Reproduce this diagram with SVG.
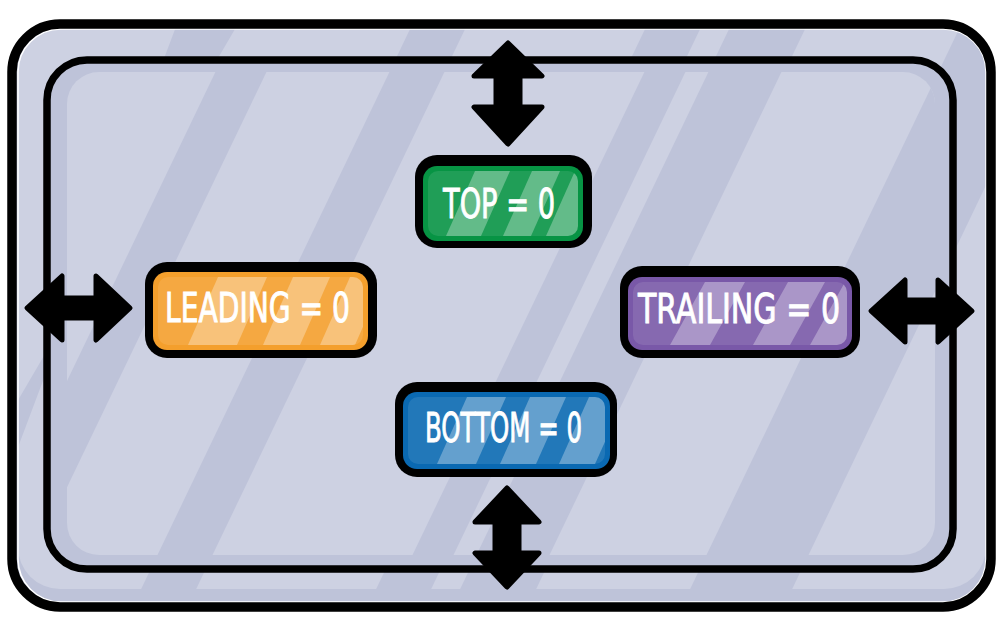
<svg xmlns="http://www.w3.org/2000/svg" width="1002" height="631" viewBox="0 0 1002 631">
<style>
.dark{fill:#bec3d9}
.lite{fill:#cdd1e2}
.band{fill:#bec3d9}
.frame{fill:none;stroke:#000;stroke-linejoin:round}
.arrow{fill:#000;stroke:#000;stroke-width:5;stroke-linejoin:round}
.edge{fill:#000}
.gloss{fill:#fff;fill-opacity:0.1}
.stripe{fill:#fff;fill-opacity:0.3}
.lbl{font-family:"DejaVu Sans Condensed","DejaVu Sans",sans-serif;font-size:41px;fill:#fff;stroke:#fff;stroke-width:0.9}
</style>
<defs>
<clipPath id="cOuter"><rect x="18" y="29" width="968" height="560" rx="42"/></clipPath>
<clipPath id="cPanel"><rect x="67" y="72" width="868" height="483" rx="32"/></clipPath>
<clipPath id="cTop"><rect x="428" y="171" width="150" height="65" rx="10"/></clipPath>
<clipPath id="cLead"><rect x="158" y="277" width="205" height="68" rx="10"/></clipPath>
<clipPath id="cTrail"><rect x="633" y="282" width="214" height="63" rx="10"/></clipPath>
<clipPath id="cBot"><rect x="408" y="397" width="197" height="67" rx="10"/></clipPath>
</defs>

<g id="background">
<rect class="dark" x="12" y="24" width="979" height="583" rx="48"/>
<rect class="lite" x="18" y="29" width="968" height="560" rx="42"/>
<g clip-path="url(#cOuter)">
<polygon class="band" points="186,0 252,0 -117,631 -51,631"/>
<polygon class="band" points="424,0 479,0 176,631 121,631"/>
<polygon class="band" points="659,0 714,0 411,631 356,631"/>
<polygon class="band" points="743,0 819,0 516,631 440,631"/>
<polygon class="band" points="973,0 1075,0 772,631 670,631"/>
</g>
<rect class="dark" x="47" y="60" width="906" height="509" rx="40"/>
<rect class="lite" x="67" y="72" width="868" height="483" rx="32"/>
<g clip-path="url(#cPanel)">
<polygon class="band" points="250,0 301,0 -2,631 -53,631"/>
<polygon class="band" points="424,0 479,0 176,631 121,631"/>
<polygon class="band" points="679,0 720,0 417,631 376,631"/>
<polygon class="band" points="743,0 816,0 513,631 440,631"/>
<polygon class="band" points="973,0 1075,0 772,631 670,631"/>
</g>
<rect class="frame" x="47" y="60" width="906" height="509" rx="40" stroke-width="7.5"/>
<rect x="18" y="29" width="968" height="573" rx="43" fill="none" stroke="#fff" stroke-width="1.5"/>
<rect class="frame" x="12" y="24" width="979" height="583" rx="48" stroke-width="9.5"/>
</g>

<g id="connectors">
<polygon class="arrow" points="508,43 542,76 520,76 520,107 542,107 508,144 474,107 496,107 496,76 474,76"/>
<polygon class="arrow" points="507,488 539,522 519,522 519,553 539,553 507,587 475,553 495,553 495,522 475,522"/>
<polygon class="arrow" points="27,308 62,276 62,298 96,298 96,276 130,308 96,340 96,318 62,318 62,340"/>
<polygon class="arrow" points="871,311 905,280 905,300 938,300 938,280 972,311 938,342 938,322 905,322 905,342"/>
</g>

<g id="node-top">
<rect class="edge" x="415" y="155" width="177" height="93" rx="22"/>
<rect x="423" y="166" width="160" height="75" rx="14" fill="#079444"/>
<rect class="gloss" x="428" y="171" width="150" height="65" rx="10"/>
<g clip-path="url(#cTop)">
<polygon class="stripe" points="475,171 510,171 481,236 446,236"/>
<polygon class="stripe" points="532,171 560,171 531,236 503,236"/>
<polygon class="stripe" points="575,171 605,171 576,236 546,236"/>
</g>
<text class="lbl" x="443" y="218" textLength="112" lengthAdjust="spacingAndGlyphs">TOP = 0</text>
</g>

<g id="node-leading">
<rect class="edge" x="145" y="262" width="232" height="96" rx="22"/>
<rect x="153" y="272" width="215" height="78" rx="14" fill="#f49f2c"/>
<rect class="gloss" x="158" y="277" width="205" height="68" rx="10"/>
<g clip-path="url(#cLead)">
<polygon class="stripe" points="218,277 267,277 237,345 188,345"/>
<polygon class="stripe" points="293,277 330,277 300,345 263,345"/>
<polygon class="stripe" points="350,277 385,277 355,345 320,345"/>
</g>
<text class="lbl" x="165" y="322" textLength="185" lengthAdjust="spacingAndGlyphs">LEADING = 0</text>
</g>

<g id="node-trailing">
<rect class="edge" x="620" y="266" width="240" height="92" rx="22"/>
<rect x="628" y="277" width="224" height="73" rx="14" fill="#7958a8"/>
<rect class="gloss" x="633" y="282" width="214" height="63" rx="10"/>
<g clip-path="url(#cTrail)">
<polygon class="stripe" points="705,282 745,282 710,345 670,345"/>
<polygon class="stripe" points="788,282 825,282 790,345 753,345"/>
<polygon class="stripe" points="845,282 880,282 845,345 810,345"/>
</g>
<text class="lbl" x="638" y="323" textLength="202" lengthAdjust="spacingAndGlyphs">TRAILING = 0</text>
</g>

<g id="node-bottom">
<rect class="edge" x="395" y="382" width="222" height="95" rx="22"/>
<rect x="403" y="392" width="207" height="77" rx="14" fill="#0a69b2"/>
<rect class="gloss" x="408" y="397" width="197" height="67" rx="10"/>
<g clip-path="url(#cBot)">
<polygon class="stripe" points="467,397 506,397 476,464 437,464"/>
<polygon class="stripe" points="530,397 566,397 536,464 500,464"/>
<polygon class="stripe" points="589,397 625,397 595,464 559,464"/>
</g>
<text class="lbl" x="425" y="442" textLength="157" lengthAdjust="spacingAndGlyphs">BOTTOM = 0</text>
</g>
</svg>
